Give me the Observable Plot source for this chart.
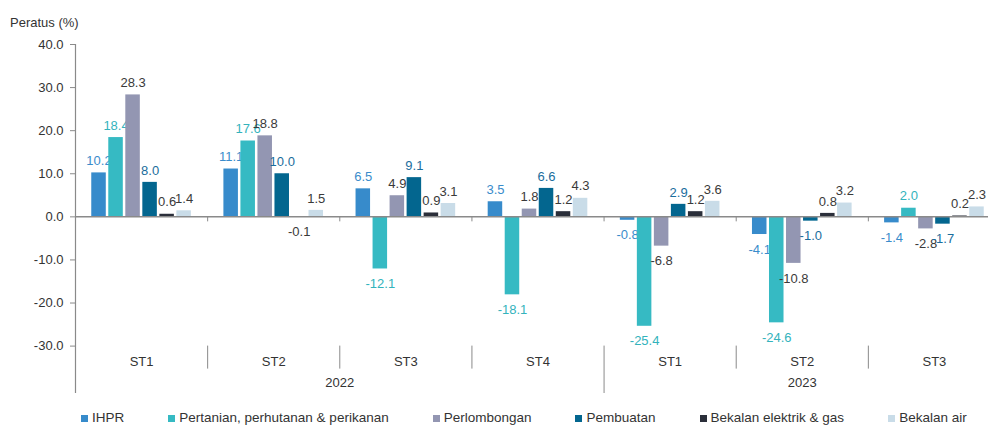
<!DOCTYPE html>
<html><head><meta charset="utf-8">
<script src="https://cdn.jsdelivr.net/npm/d3@7"></script>
<script src="https://cdn.jsdelivr.net/npm/@observablehq/plot@0.6"></script>
<style>
html,body{margin:0;padding:0;background:#fff;overflow:hidden;}
body{font-family:"Liberation Sans",Arial,sans-serif;color:#333;width:988px;}
#title{height:34px;box-sizing:border-box;padding:15px 0 0 10px;font-size:13px;line-height:16px;}
#chart svg{display:block;max-width:none;}
#legend{display:flex;padding-left:81px;margin-top:14px;font-size:13.5px;line-height:14px;white-space:nowrap;}
.item{display:flex;align-items:center;margin-right:44px;}
.sw{width:7px;height:7px;margin-right:4px;}
</style></head><body>
<div id="title">Peratus (%)</div>
<div id="chart"></div>
<div id="legend"></div>
<script>
const periods = ["ST1", "ST2", "ST3", "ST4", "ST1", "ST2", "ST3"];
const years = ["2022", "2022", "2022", "2022", "2023", "2023", "2023"];
const seriesNames = ["IHPR", "Pertanian, perhutanan & perikanan", "Perlombongan", "Pembuatan", "Bekalan elektrik & gas", "Bekalan air"];
const ihpr = [10.2, 11.1, 6.5, 3.5, -0.8, -4.1, -1.4];
const pertanian = [18.4, 17.6, -12.1, -18.1, -25.4, -24.6, 2.0];
const perlombongan = [28.3, 18.8, 4.9, 1.8, -6.8, -10.8, -2.8];
const pembuatan = [8.0, 10.0, 9.1, 6.6, 2.9, -1.0, -1.7];
const elektrik = [0.6, -0.1, 0.9, 1.2, 1.2, 0.8, 0.2];
const air = [1.4, 1.5, 3.1, 4.3, 3.6, 3.2, 2.3];
const yTicks = [40, 30, 20, 10, 0, -10, -20, -30];

const seriesValues = [ihpr, pertanian, perlombongan, pembuatan, elektrik, air];
const barColors = ["#378bcb", "#36bac3", "#9396b2", "#03668f", "#2b2f3a", "#c9dce8"];
const labelColors = ["#3a8ccb", "#33b3bc", "#3a3a3a", "#1a6d9c", "#3a3a3a", "#3a3a3a"];

const keys = periods.map((p, i) => years[i] + " " + p);
const width = 988, marginLeft = 75, marginRight = -12;
const bw = (width - marginLeft - marginRight) / keys.length;
const sub = d3.scaleBand(seriesNames, [0, bw]).paddingInner(0.147).paddingOuter(0.955);
const yDomain = [-41, 40];
const yMin = d3.min(yTicks);
const axisColor = "#8a8a8a";

const marks = [];
// bars and labels
seriesNames.forEach((s, i) => {
  const rows = seriesValues[i].map((v, j) => ({key: keys[j], value: v}));
  const off = sub(s);
  marks.push(Plot.barY(rows, {x: "key", y: "value", fill: barColors[i],
    insetLeft: off, insetRight: bw - off - sub.bandwidth()}));
  const dx = off + sub.bandwidth() / 2 - bw / 2;
  marks.push(Plot.text(rows.filter(d => d.value >= 0), {x: "key", y: "value", text: d => d.value.toFixed(1),
    dx, dy: -12, fill: labelColors[i], fontSize: 13}));
  marks.push(Plot.text(rows.filter(d => d.value < 0), {x: "key", y: "value", text: d => d.value.toFixed(1),
    dx, dy: 15, fill: labelColors[i], fontSize: 13}));
});
// zero line
marks.push(Plot.ruleY([0], {stroke: axisColor, strokeWidth: 1.5}));
// y axis line
marks.push(Plot.ruleX([keys[0]], {dx: -bw / 2, stroke: axisColor, strokeWidth: 1.2}));
// small ticks at zero line at group boundaries
marks.push(Plot.ruleX(keys.slice(1), {dx: -bw / 2, y1: 0, y2: 0, insetBottom: -5, stroke: axisColor}));
// separators between periods
const yearStarts = keys.filter((k, i) => i > 0 && years[i] !== years[i - 1]);
marks.push(Plot.ruleX(keys.slice(1).filter(k => !yearStarts.includes(k)), {dx: -bw / 2, y1: yMin, y2: yMin, insetBottom: -23, stroke: axisColor}));
marks.push(Plot.ruleX(yearStarts, {dx: -bw / 2, y1: yMin, y2: yDomain[0], stroke: axisColor}));
// period labels
marks.push(Plot.text(keys, {x: d => d, y: yMin, dy: 16, text: (d, i) => periods[i], fill: "#333", fontSize: 13}));
// year labels
const yearList = Array.from(new Set(years));
const yearLabels = yearList.map(y => {
  const ks = keys.filter((k, i) => years[i] === y);
  const n = ks.length;
  return {year: y, key: ks[Math.floor(n / 2)], even: n % 2 === 0};
});
marks.push(Plot.text(yearLabels.filter(d => d.even), {x: "key", y: yMin, dy: 37, dx: -bw / 2, text: "year", fill: "#333", fontSize: 13}));
marks.push(Plot.text(yearLabels.filter(d => !d.even), {x: "key", y: yMin, dy: 37, text: "year", fill: "#333", fontSize: 13}));
// y axis
marks.push(Plot.axisY({ticks: yTicks, tickFormat: d => d.toFixed(1), tickSize: 5, tickPadding: 7, fontSize: 13, color: "#333", stroke: axisColor, label: null}));

const chart = Plot.plot({
  width, height: 363,
  marginLeft, marginRight, marginTop: 10, marginBottom: 4,
  style: {fontFamily: '"Liberation Sans", Arial, sans-serif', fontSize: "13px", background: "#fff", overflow: "visible"},
  x: {domain: keys, padding: 0, round: false, axis: null},
  y: {domain: yDomain, axis: null},
  marks
});
document.getElementById("chart").appendChild(chart);

const legend = document.getElementById("legend");
seriesNames.forEach((s, i) => {
  const it = document.createElement("div");
  it.className = "item";
  const sw = document.createElement("span");
  sw.className = "sw";
  sw.style.background = barColors[i];
  const t = document.createElement("span");
  t.textContent = s;
  it.appendChild(sw); it.appendChild(t);
  legend.appendChild(it);
});
</script>
</body></html>
